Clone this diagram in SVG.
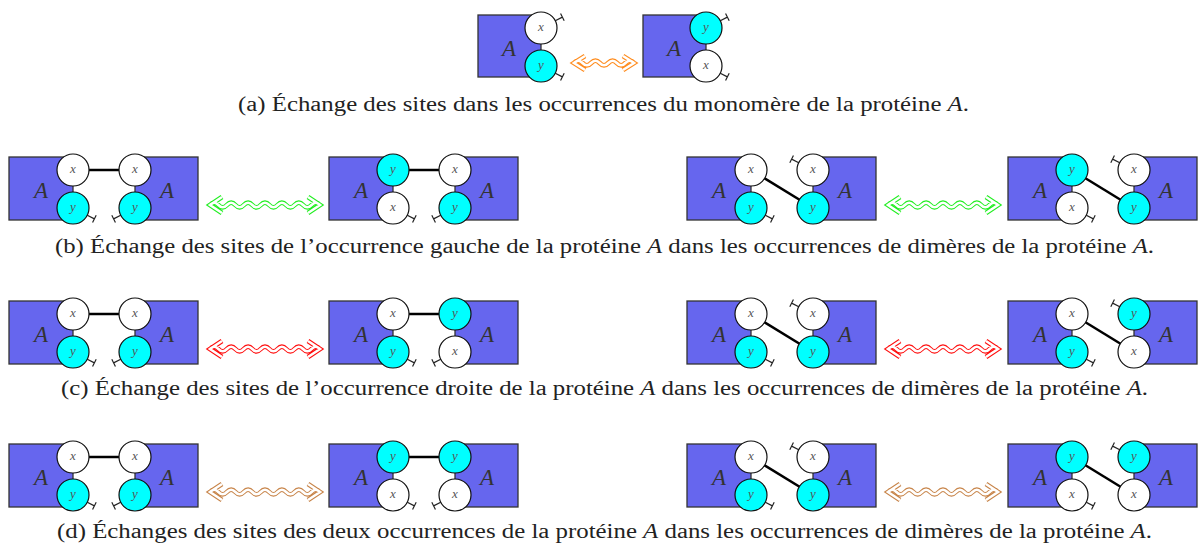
<svg xmlns="http://www.w3.org/2000/svg" xmlns:xlink="http://www.w3.org/1999/xlink" width="1198" height="548" viewBox="0 0 1198 548">
<style>
.box{fill:#6666EE;stroke:#333;stroke-width:1.3}
.cw{fill:#fff;stroke:#111;stroke-width:1.2}
.cc{fill:#00FFFF;stroke:#111;stroke-width:1.2}
.A{font-family:"Liberation Serif",serif;font-style:italic;font-size:23px;fill:#333;text-anchor:middle}
.s{font-family:"Liberation Serif",serif;font-style:italic;font-size:13px;fill:#555;text-anchor:middle}
.tick{stroke:#222;stroke-width:1.2;fill:none}
.bond{stroke:#000;stroke-width:2.5;fill:none}
.cap{font-family:"Liberation Serif",serif;font-size:20px;fill:#222}
.i{font-style:italic}
.wo{fill:none;stroke-width:4.8;stroke-linejoin:miter}
.wi{fill:none;stroke:#fff;stroke-width:2.6;stroke-linejoin:miter}
</style>
<defs>
<path id="tk" d="M16,0 H24 M24,-4 V4"/>
<path id="w112" d="M13,-8 L1,0 L13,8 M99,-8 L111,0 L99,8 M1,0 q4.23,-4.6 8.46,0 t8.46,0 t8.46,0 t8.46,0 t8.46,0 t8.46,0 t8.46,0 t8.46,0 t8.46,0 t8.46,0 t8.46,0 t8.46,0 t8.46,0"/>
<path id="w62" d="M12,-7 L1,0 L12,7 M50,-7 L61,0 L50,7 M1,0 q4.286,-4.6 8.571,0 t8.571,0 t8.571,0 t8.571,0 t8.571,0 t8.571,0 t8.571,0"/>
</defs>

<!-- connectors: bonds and exchange arrows -->
<g id="connectors">
  <g id="bonds" class="bond">
    <line x1="89" y1="170" x2="119" y2="170"/>
    <line x1="409" y1="170" x2="439" y2="170"/>
    <line x1="751" y1="170" x2="813" y2="208"/>
    <line x1="1072" y1="170" x2="1134" y2="208"/>
    <line x1="89" y1="314" x2="119" y2="314"/>
    <line x1="409" y1="314" x2="439" y2="314"/>
    <line x1="751" y1="314" x2="813" y2="352"/>
    <line x1="1072" y1="314" x2="1134" y2="352"/>
    <line x1="89" y1="457" x2="119" y2="457"/>
    <line x1="409" y1="457" x2="439" y2="457"/>
    <line x1="751" y1="457" x2="813" y2="495"/>
    <line x1="1072" y1="457" x2="1134" y2="495"/>
  </g>
  <g id="arrows">
    <g transform="translate(573,63)"><use xlink:href="#w62" class="wo" stroke="#FF8C1E"/><use xlink:href="#w62" class="wi"/></g>
    <g transform="translate(209,205)"><use xlink:href="#w112" class="wo" stroke="#22EE22"/><use xlink:href="#w112" class="wi"/></g>
    <g transform="translate(887,205)"><use xlink:href="#w112" class="wo" stroke="#22EE22"/><use xlink:href="#w112" class="wi"/></g>
    <g transform="translate(209,349)"><use xlink:href="#w112" class="wo" stroke="#FF1010"/><use xlink:href="#w112" class="wi"/></g>
    <g transform="translate(887,349)"><use xlink:href="#w112" class="wo" stroke="#FF1010"/><use xlink:href="#w112" class="wi"/></g>
    <g transform="translate(209,492)"><use xlink:href="#w112" class="wo" stroke="#C8854A"/><use xlink:href="#w112" class="wi"/></g>
    <g transform="translate(887,492)"><use xlink:href="#w112" class="wo" stroke="#C8854A"/><use xlink:href="#w112" class="wi"/></g>
  </g>
</g>

<!-- (a) monomers -->
<g id="a-m1">
  <rect class="box" x="478" y="15" width="63" height="62"/>
  <text class="A" x="509" y="56">A</text>
  <use xlink:href="#tk" class="tick" transform="translate(541,28) rotate(-27)"/>
  <use xlink:href="#tk" class="tick" transform="translate(541,66) rotate(27)"/>
  <circle class="cw" cx="541" cy="28" r="16"/><text class="s" x="541" y="31">x</text>
  <circle class="cc" cx="541" cy="66" r="16"/><text class="s" x="541" y="69">y</text>
</g>
<g id="a-m2">
  <rect class="box" x="643" y="15" width="63" height="62"/>
  <text class="A" x="674" y="56">A</text>
  <use xlink:href="#tk" class="tick" transform="translate(706,28) rotate(-27)"/>
  <use xlink:href="#tk" class="tick" transform="translate(706,66) rotate(27)"/>
  <circle class="cc" cx="706" cy="28" r="16"/><text class="s" x="706" y="31">y</text>
  <circle class="cw" cx="706" cy="66" r="16"/><text class="s" x="706" y="69">x</text>
</g>

<!-- (b) row, T=157 -->
<g id="b-d1-l">
  <rect class="box" x="9" y="157" width="64" height="63"/><text class="A" x="41" y="198">A</text>
  <use xlink:href="#tk" class="tick" transform="translate(73,208) rotate(27)"/>
  <circle class="cw" cx="73" cy="170" r="16"/><text class="s" x="73" y="173">x</text>
  <circle class="cc" cx="73" cy="208" r="16"/><text class="s" x="73" y="211">y</text>
</g>
<g id="b-d1-r">
  <rect class="box" x="135" y="157" width="63" height="63"/><text class="A" x="167" y="198">A</text>
  <use xlink:href="#tk" class="tick" transform="translate(135,208) rotate(153)"/>
  <circle class="cw" cx="135" cy="170" r="16"/><text class="s" x="135" y="173">x</text>
  <circle class="cc" cx="135" cy="208" r="16"/><text class="s" x="135" y="211">y</text>
</g>
<g id="b-d2-l">
  <rect class="box" x="329" y="157" width="64" height="63"/><text class="A" x="361" y="198">A</text>
  <use xlink:href="#tk" class="tick" transform="translate(393,208) rotate(27)"/>
  <circle class="cc" cx="393" cy="170" r="16"/><text class="s" x="393" y="173">y</text>
  <circle class="cw" cx="393" cy="208" r="16"/><text class="s" x="393" y="211">x</text>
</g>
<g id="b-d2-r">
  <rect class="box" x="455" y="157" width="63" height="63"/><text class="A" x="487" y="198">A</text>
  <use xlink:href="#tk" class="tick" transform="translate(455,208) rotate(153)"/>
  <circle class="cw" cx="455" cy="170" r="16"/><text class="s" x="455" y="173">x</text>
  <circle class="cc" cx="455" cy="208" r="16"/><text class="s" x="455" y="211">y</text>
</g>
<g id="b-d3-l">
  <rect class="box" x="687" y="157" width="64" height="63"/><text class="A" x="719" y="198">A</text>
  <use xlink:href="#tk" class="tick" transform="translate(751,208) rotate(27)"/>
  <circle class="cw" cx="751" cy="170" r="16"/><text class="s" x="751" y="173">x</text>
  <circle class="cc" cx="751" cy="208" r="16"/><text class="s" x="751" y="211">y</text>
</g>
<g id="b-d3-r">
  <rect class="box" x="813" y="157" width="63" height="63"/><text class="A" x="845" y="198">A</text>
  <use xlink:href="#tk" class="tick" transform="translate(813,170) rotate(-153)"/>
  <circle class="cw" cx="813" cy="170" r="16"/><text class="s" x="813" y="173">x</text>
  <circle class="cc" cx="813" cy="208" r="16"/><text class="s" x="813" y="211">y</text>
</g>
<g id="b-d4-l">
  <rect class="box" x="1008" y="157" width="64" height="63"/><text class="A" x="1040" y="198">A</text>
  <use xlink:href="#tk" class="tick" transform="translate(1072,208) rotate(27)"/>
  <circle class="cc" cx="1072" cy="170" r="16"/><text class="s" x="1072" y="173">y</text>
  <circle class="cw" cx="1072" cy="208" r="16"/><text class="s" x="1072" y="211">x</text>
</g>
<g id="b-d4-r">
  <rect class="box" x="1134" y="157" width="63" height="63"/><text class="A" x="1166" y="198">A</text>
  <use xlink:href="#tk" class="tick" transform="translate(1134,170) rotate(-153)"/>
  <circle class="cw" cx="1134" cy="170" r="16"/><text class="s" x="1134" y="173">x</text>
  <circle class="cc" cx="1134" cy="208" r="16"/><text class="s" x="1134" y="211">y</text>
</g>

<!-- (c) row, T=301 -->
<g id="c-d1-l">
  <rect class="box" x="9" y="301" width="64" height="63"/><text class="A" x="41" y="342">A</text>
  <use xlink:href="#tk" class="tick" transform="translate(73,352) rotate(27)"/>
  <circle class="cw" cx="73" cy="314" r="16"/><text class="s" x="73" y="317">x</text>
  <circle class="cc" cx="73" cy="352" r="16"/><text class="s" x="73" y="355">y</text>
</g>
<g id="c-d1-r">
  <rect class="box" x="135" y="301" width="63" height="63"/><text class="A" x="167" y="342">A</text>
  <use xlink:href="#tk" class="tick" transform="translate(135,352) rotate(153)"/>
  <circle class="cw" cx="135" cy="314" r="16"/><text class="s" x="135" y="317">x</text>
  <circle class="cc" cx="135" cy="352" r="16"/><text class="s" x="135" y="355">y</text>
</g>
<g id="c-d2-l">
  <rect class="box" x="329" y="301" width="64" height="63"/><text class="A" x="361" y="342">A</text>
  <use xlink:href="#tk" class="tick" transform="translate(393,352) rotate(27)"/>
  <circle class="cw" cx="393" cy="314" r="16"/><text class="s" x="393" y="317">x</text>
  <circle class="cc" cx="393" cy="352" r="16"/><text class="s" x="393" y="355">y</text>
</g>
<g id="c-d2-r">
  <rect class="box" x="455" y="301" width="63" height="63"/><text class="A" x="487" y="342">A</text>
  <use xlink:href="#tk" class="tick" transform="translate(455,352) rotate(153)"/>
  <circle class="cc" cx="455" cy="314" r="16"/><text class="s" x="455" y="317">y</text>
  <circle class="cw" cx="455" cy="352" r="16"/><text class="s" x="455" y="355">x</text>
</g>
<g id="c-d3-l">
  <rect class="box" x="687" y="301" width="64" height="63"/><text class="A" x="719" y="342">A</text>
  <use xlink:href="#tk" class="tick" transform="translate(751,352) rotate(27)"/>
  <circle class="cw" cx="751" cy="314" r="16"/><text class="s" x="751" y="317">x</text>
  <circle class="cc" cx="751" cy="352" r="16"/><text class="s" x="751" y="355">y</text>
</g>
<g id="c-d3-r">
  <rect class="box" x="813" y="301" width="63" height="63"/><text class="A" x="845" y="342">A</text>
  <use xlink:href="#tk" class="tick" transform="translate(813,314) rotate(-153)"/>
  <circle class="cw" cx="813" cy="314" r="16"/><text class="s" x="813" y="317">x</text>
  <circle class="cc" cx="813" cy="352" r="16"/><text class="s" x="813" y="355">y</text>
</g>
<g id="c-d4-l">
  <rect class="box" x="1008" y="301" width="64" height="63"/><text class="A" x="1040" y="342">A</text>
  <use xlink:href="#tk" class="tick" transform="translate(1072,352) rotate(27)"/>
  <circle class="cw" cx="1072" cy="314" r="16"/><text class="s" x="1072" y="317">x</text>
  <circle class="cc" cx="1072" cy="352" r="16"/><text class="s" x="1072" y="355">y</text>
</g>
<g id="c-d4-r">
  <rect class="box" x="1134" y="301" width="63" height="63"/><text class="A" x="1166" y="342">A</text>
  <use xlink:href="#tk" class="tick" transform="translate(1134,314) rotate(-153)"/>
  <circle class="cc" cx="1134" cy="314" r="16"/><text class="s" x="1134" y="317">y</text>
  <circle class="cw" cx="1134" cy="352" r="16"/><text class="s" x="1134" y="355">x</text>
</g>

<!-- (d) row, T=444 -->
<g id="d-d1-l">
  <rect class="box" x="9" y="444" width="64" height="63"/><text class="A" x="41" y="485">A</text>
  <use xlink:href="#tk" class="tick" transform="translate(73,495) rotate(27)"/>
  <circle class="cw" cx="73" cy="457" r="16"/><text class="s" x="73" y="460">x</text>
  <circle class="cc" cx="73" cy="495" r="16"/><text class="s" x="73" y="498">y</text>
</g>
<g id="d-d1-r">
  <rect class="box" x="135" y="444" width="63" height="63"/><text class="A" x="167" y="485">A</text>
  <use xlink:href="#tk" class="tick" transform="translate(135,495) rotate(153)"/>
  <circle class="cw" cx="135" cy="457" r="16"/><text class="s" x="135" y="460">x</text>
  <circle class="cc" cx="135" cy="495" r="16"/><text class="s" x="135" y="498">y</text>
</g>
<g id="d-d2-l">
  <rect class="box" x="329" y="444" width="64" height="63"/><text class="A" x="361" y="485">A</text>
  <use xlink:href="#tk" class="tick" transform="translate(393,495) rotate(27)"/>
  <circle class="cc" cx="393" cy="457" r="16"/><text class="s" x="393" y="460">y</text>
  <circle class="cw" cx="393" cy="495" r="16"/><text class="s" x="393" y="498">x</text>
</g>
<g id="d-d2-r">
  <rect class="box" x="455" y="444" width="63" height="63"/><text class="A" x="487" y="485">A</text>
  <use xlink:href="#tk" class="tick" transform="translate(455,495) rotate(153)"/>
  <circle class="cc" cx="455" cy="457" r="16"/><text class="s" x="455" y="460">y</text>
  <circle class="cw" cx="455" cy="495" r="16"/><text class="s" x="455" y="498">x</text>
</g>
<g id="d-d3-l">
  <rect class="box" x="687" y="444" width="64" height="63"/><text class="A" x="719" y="485">A</text>
  <use xlink:href="#tk" class="tick" transform="translate(751,495) rotate(27)"/>
  <circle class="cw" cx="751" cy="457" r="16"/><text class="s" x="751" y="460">x</text>
  <circle class="cc" cx="751" cy="495" r="16"/><text class="s" x="751" y="498">y</text>
</g>
<g id="d-d3-r">
  <rect class="box" x="813" y="444" width="63" height="63"/><text class="A" x="845" y="485">A</text>
  <use xlink:href="#tk" class="tick" transform="translate(813,457) rotate(-153)"/>
  <circle class="cw" cx="813" cy="457" r="16"/><text class="s" x="813" y="460">x</text>
  <circle class="cc" cx="813" cy="495" r="16"/><text class="s" x="813" y="498">y</text>
</g>
<g id="d-d4-l">
  <rect class="box" x="1008" y="444" width="64" height="63"/><text class="A" x="1040" y="485">A</text>
  <use xlink:href="#tk" class="tick" transform="translate(1072,495) rotate(27)"/>
  <circle class="cc" cx="1072" cy="457" r="16"/><text class="s" x="1072" y="460">y</text>
  <circle class="cw" cx="1072" cy="495" r="16"/><text class="s" x="1072" y="498">x</text>
</g>
<g id="d-d4-r">
  <rect class="box" x="1134" y="444" width="63" height="63"/><text class="A" x="1166" y="485">A</text>
  <use xlink:href="#tk" class="tick" transform="translate(1134,457) rotate(-153)"/>
  <circle class="cc" cx="1134" cy="457" r="16"/><text class="s" x="1134" y="460">y</text>
  <circle class="cw" cx="1134" cy="495" r="16"/><text class="s" x="1134" y="498">x</text>
</g>

<!-- captions -->
<g id="captions">
  <text class="cap" x="238" y="111" textLength="731" lengthAdjust="spacingAndGlyphs">(a)  Échange des sites dans les occurrences du monomère de la protéine <tspan class="i">A</tspan>.</text>
  <text class="cap" x="55" y="253" textLength="1099" lengthAdjust="spacingAndGlyphs">(b)  Échange des sites de l’occurrence gauche de la protéine <tspan class="i">A</tspan> dans les occurrences de dimères de la protéine <tspan class="i">A</tspan>.</text>
  <text class="cap" x="61" y="395" textLength="1087" lengthAdjust="spacingAndGlyphs">(c)  Échange des sites de l’occurrence droite de la protéine <tspan class="i">A</tspan> dans les occurrences de dimères de la protéine <tspan class="i">A</tspan>.</text>
  <text class="cap" x="57" y="538" textLength="1095" lengthAdjust="spacingAndGlyphs">(d)  Échanges des sites des deux occurrences de la protéine <tspan class="i">A</tspan> dans les occurrences de dimères de la protéine <tspan class="i">A</tspan>.</text>
</g>
</svg>
